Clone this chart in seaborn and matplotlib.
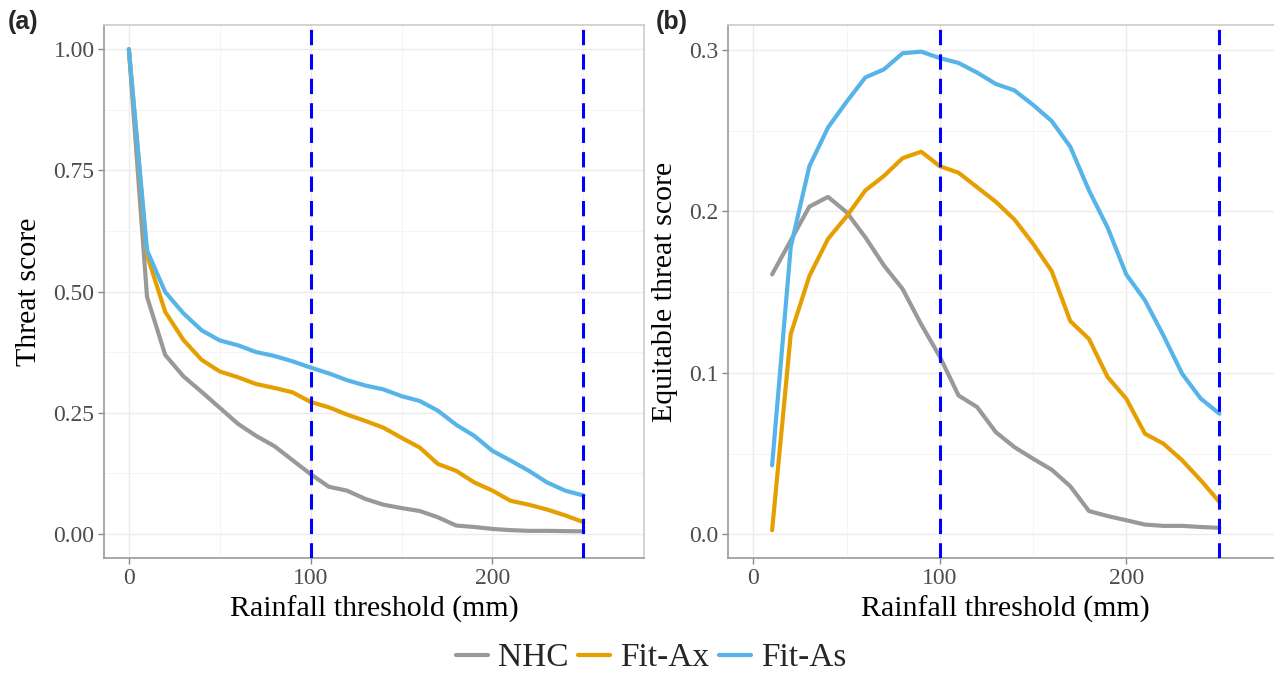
import numpy as np
import pandas as pd
import matplotlib
matplotlib.use("Agg")
import matplotlib.pyplot as plt
import seaborn as sns

# ---------------- data ----------------
series_names = ["NHC", "Fit-Ax", "Fit-As"]
series_colors = ["#999999", "#E69F00", "#56B4E9"]

thr_a = list(range(0, 260, 10))  # 0..250
ts_nhc = [1.00, 0.489, 0.369, 0.325, 0.293, 0.260, 0.227, 0.202, 0.181, 0.152,
          0.123, 0.097, 0.089, 0.072, 0.060, 0.053, 0.047, 0.034, 0.017, 0.014,
          0.010, 0.0075, 0.006, 0.006, 0.0055, 0.005]
ts_fitax = [1.00, 0.575, 0.458, 0.400, 0.359, 0.335, 0.323, 0.309, 0.301, 0.292,
            0.272, 0.261, 0.246, 0.233, 0.219, 0.198, 0.178, 0.144, 0.130, 0.106,
            0.089, 0.068, 0.060, 0.050, 0.038, 0.024]
ts_fitas = [1.00, 0.585, 0.499, 0.455, 0.420, 0.399, 0.389, 0.375, 0.367, 0.356,
            0.343, 0.331, 0.317, 0.306, 0.298, 0.284, 0.274, 0.254, 0.225, 0.202,
            0.171, 0.151, 0.130, 0.106, 0.089, 0.079]

thr_b = list(range(10, 260, 10))  # 10..250
ets_nhc = [0.161, 0.182, 0.203, 0.209, 0.1995, 0.184, 0.1665, 0.152, 0.130, 0.110,
           0.086, 0.0788, 0.0633, 0.054, 0.0468, 0.040, 0.0297, 0.0144, 0.0113, 0.0087,
           0.006, 0.0052, 0.0052, 0.0045, 0.004]
ets_fitax = [0.0025, 0.124, 0.160, 0.183, 0.197, 0.213, 0.222, 0.233, 0.237, 0.228,
             0.224, 0.215, 0.206, 0.195, 0.180, 0.163, 0.132, 0.121, 0.0974, 0.084,
             0.0623, 0.0561, 0.0458, 0.0334, 0.020]
ets_fitas = [0.0427, 0.178, 0.228, 0.252, 0.268, 0.283, 0.288, 0.298, 0.299, 0.295,
             0.292, 0.286, 0.279, 0.275, 0.266, 0.256, 0.240, 0.213, 0.190, 0.161,
             0.145, 0.123, 0.0994, 0.084, 0.0747]

vlines_x = [100, 250]
xticks = [0, 100, 200]
yticks_a = [0.00, 0.25, 0.50, 0.75, 1.00]
yticks_b = [0.0, 0.1, 0.2, 0.3]

def long_df(x, ys):
    frames = []
    for name, y in zip(series_names, ys):
        frames.append(pd.DataFrame({"x": x, "y": y, "model": name}))
    return pd.concat(frames, ignore_index=True)

df_a = long_df(thr_a, [ts_nhc, ts_fitax, ts_fitas])
df_b = long_df(thr_b, [ets_nhc, ets_fitax, ets_fitas])

# ---------------- style ----------------
sns.set_theme(style="whitegrid")
plt.rcParams['font.family'] = ['Liberation Serif', 'DejaVu Serif']
plt.rcParams['axes.unicode_minus'] = False

W, H = 1274, 673
fig = plt.figure(figsize=(W / 100, H / 100), dpi=100)
fig.patch.set_facecolor("white")

ax_a = fig.add_axes([104.3 / W, 1 - 558 / H, 540 / W, 533 / H])
ax_b = fig.add_axes([728.3 / W, 1 - 558 / H, 553.6 / W, 533 / H])

palette = dict(zip(series_names, series_colors))

for ax, df, ylab, ylim, yticks, fmt in [
    (ax_a, df_a, "Threat score", (-0.05, 1.05), yticks_a, "{:.2f}"),
    (ax_b, df_b, "Equitable threat score", (-0.0147, 0.3155), yticks_b, "{:.1f}"),
]:
    sns.lineplot(data=df, x="x", y="y", hue="model", hue_order=series_names,
                 palette=palette, linewidth=3.0, ax=ax, legend=(ax is ax_a),
                 zorder=3)
    for xv in vlines_x:
        ax.axvline(xv, color="#0000FF", linewidth=2.2, linestyle=(0, (5, 3)),
                   zorder=5)
    ax.set_xlim(-13.5, 283.5)
    ax.set_ylim(*ylim)
    ax.set_xticks(xticks)
    ax.set_xticks([50, 150, 250], minor=True)
    ax.set_yticks(yticks)
    minors = [(yticks[i] + yticks[i + 1]) / 2 for i in range(len(yticks) - 1)]
    ax.set_yticks(minors, minor=True)
    ax.set_yticklabels([fmt.format(v) for v in yticks])
    ax.set_xticklabels([str(v) for v in xticks])
    ax.grid(which="major", color="#EBEBEB", linewidth=1.0)
    ax.grid(which="minor", color="#F4F4F4", linewidth=0.7)
    ax.set_axisbelow(True)
    ax.tick_params(axis="both", which="major", labelsize=17, colors="#888888",
                   labelcolor="#4D4D4D", length=4, width=1.0, direction="out",
                   pad=3, left=True, bottom=True)
    ax.tick_params(axis="both", which="minor", length=0)
    ax.set_xlabel("Rainfall threshold (mm)", fontsize=21.5, color="black", labelpad=5)
    ax.set_ylabel(ylab, fontsize=21.5, color="black", labelpad=8)
    for side in ["left", "bottom"]:
        ax.spines[side].set_color("#999999")
        ax.spines[side].set_linewidth(1.2)
    for side in ["top", "right"]:
        ax.spines[side].set_color("#CCCCCC")
        ax.spines[side].set_linewidth(1.2)
    ax.set_facecolor("white")

handles, labels = ax_a.get_legend_handles_labels()
ax_a.get_legend().remove()
leg = fig.legend(handles, labels, loc="center", bbox_to_anchor=(651 / W, 1 - 658 / H),
                 ncol=3, frameon=False, fontsize=24, handlelength=0.95,
                 handletextpad=0.3, columnspacing=0.3)
for line in leg.get_lines():
    line.set_linewidth(3.0)

fig.text(8 / W, 1 - 22 / H, "(a)", fontsize=18, fontweight="bold",
         family=["Liberation Sans", "DejaVu Sans"], ha="left", va="center")
fig.text(656 / W, 1 - 22 / H, "(b)", fontsize=18, fontweight="bold",
         family=["Liberation Sans", "DejaVu Sans"], ha="left", va="center")

fig.savefig("out.png", dpi=100, facecolor="white")
